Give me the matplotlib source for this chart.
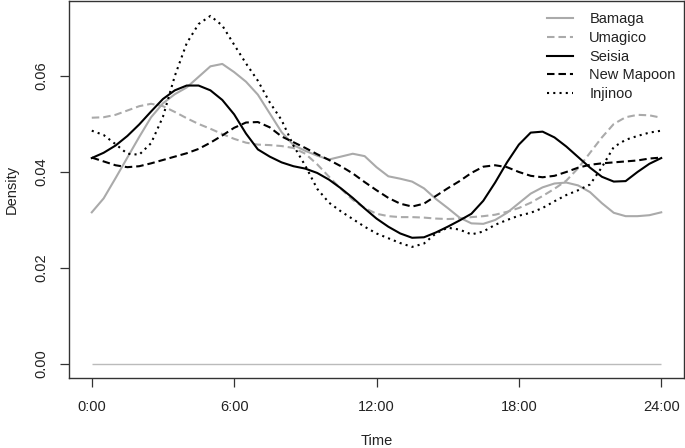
import numpy as np
import matplotlib
matplotlib.use("Agg")
import matplotlib.pyplot as plt

plt.rcParams['font.family'] = ['Liberation Sans', 'DejaVu Sans']

# Time grid (hours), half-hourly readings
hours = np.arange(0, 24.5, 0.5)

bamaga = [0.0316, 0.0345, 0.0387, 0.0430, 0.0473, 0.0514, 0.0543, 0.0562, 0.0576, 0.0598,
          0.0620, 0.0625, 0.0608, 0.0588, 0.0561, 0.0522, 0.0483, 0.0456, 0.0444, 0.0434,
          0.0426, 0.0432, 0.0438, 0.0433, 0.0410, 0.0391, 0.0386, 0.0380, 0.0366, 0.0344,
          0.0325, 0.0305, 0.0293, 0.0292, 0.0300, 0.0315, 0.0335, 0.0355, 0.0368, 0.0376,
          0.0378, 0.0372, 0.0358, 0.0335, 0.0315, 0.0308, 0.0308, 0.0310, 0.0316]

umagico = [0.0513, 0.0514, 0.0519, 0.0528, 0.0537, 0.0542, 0.0537, 0.0525, 0.0512, 0.0500,
           0.0490, 0.0479, 0.0469, 0.0461, 0.0457, 0.0456, 0.0454, 0.0450, 0.0438, 0.0416,
           0.0390, 0.0365, 0.0342, 0.0325, 0.0313, 0.0308, 0.0306, 0.0306, 0.0305, 0.0303,
           0.0302, 0.0303, 0.0306, 0.0308, 0.0311, 0.0317, 0.0325, 0.0336, 0.0350, 0.0365,
           0.0382, 0.0408, 0.0440, 0.0472, 0.0500, 0.0514, 0.0519, 0.0518, 0.0513]

seisia = [0.0429, 0.0440, 0.0455, 0.0475, 0.0499, 0.0526, 0.0552, 0.0570, 0.0580, 0.0580,
          0.0570, 0.0550, 0.0520, 0.0480, 0.0447, 0.0432, 0.0420, 0.0412, 0.0407, 0.0398,
          0.0384, 0.0366, 0.0346, 0.0324, 0.0303, 0.0286, 0.0272, 0.0263, 0.0264, 0.0274,
          0.0286, 0.0299, 0.0313, 0.0340, 0.0378, 0.0420, 0.0457, 0.0482, 0.0484, 0.0472,
          0.0453, 0.0431, 0.0409, 0.0390, 0.0380, 0.0381, 0.0400, 0.0417, 0.0429]

new_mapoon = [0.0430, 0.0422, 0.0414, 0.0410, 0.0412, 0.0418, 0.0425, 0.0432, 0.0439, 0.0448,
              0.0461, 0.0476, 0.0492, 0.0503, 0.0504, 0.0493, 0.0474, 0.0462, 0.0450, 0.0437,
              0.0425, 0.0412, 0.0397, 0.0379, 0.0362, 0.0346, 0.0334, 0.0328, 0.0334, 0.0350,
              0.0366, 0.0381, 0.0398, 0.0411, 0.0414, 0.0410, 0.0400, 0.0392, 0.0389, 0.0392,
              0.0400, 0.0409, 0.0415, 0.0418, 0.0420, 0.0422, 0.0424, 0.0428, 0.0430]

injinoo = [0.0486, 0.0477, 0.0458, 0.0438, 0.0436, 0.0460, 0.0515, 0.0600, 0.0668, 0.0708,
           0.0725, 0.0705, 0.0665, 0.0626, 0.0590, 0.0545, 0.0508, 0.0455, 0.0413, 0.0365,
           0.0336, 0.0318, 0.0302, 0.0286, 0.0272, 0.0262, 0.0252, 0.0244, 0.0251, 0.0272,
           0.0284, 0.0280, 0.0270, 0.0276, 0.0290, 0.0300, 0.0309, 0.0315, 0.0325, 0.0339,
           0.0352, 0.0362, 0.0374, 0.0410, 0.0452, 0.0467, 0.0475, 0.0482, 0.0486]

series_names = ["Bamaga", "Umagico", "Seisia", "New Mapoon", "Injinoo"]
xtick_vals = [0, 6, 12, 18, 24]
xtick_labels = ["0:00", "6:00", "12:00", "18:00", "24:00"]
ytick_vals = [0.00, 0.02, 0.04, 0.06]
ytick_labels = ["0.00", "0.02", "0.04", "0.06"]

W, H = 685, 448
fig = plt.figure(figsize=(W / 100, H / 100), dpi=100)
ax = fig.add_axes([69 / W, (H - 378) / H, (684 - 69) / W, (378 - 1.5) / H])

grey = '#aaaaaa'
lw = 1.5
dash = (0, (3.6, 1.9))
dot = (0, (1.0, 2.0))

ax.hlines(0, 0, 24, color='#bbbbbb', lw=1.0)
ax.plot(hours, bamaga, color=grey, lw=lw, ls='-', label=series_names[0])
ax.plot(hours, umagico, color=grey, lw=lw, ls=dash, label=series_names[1])
ax.plot(hours, seisia, color='black', lw=lw, ls='-', label=series_names[2])
ax.plot(hours, new_mapoon, color='black', lw=lw, ls=dash, label=series_names[3])
ax.plot(hours, injinoo, color='black', lw=lw, ls=dot, label=series_names[4])

ax.set_xlim(-0.96, 24.96)
ax.set_ylim(-0.0029, 0.0755)

fs = 10.5
ax.set_xticks(xtick_vals)
ax.set_xticklabels(xtick_labels, fontsize=fs)
ax.set_yticks(ytick_vals)
ax.set_yticklabels(ytick_labels, fontsize=fs, rotation=90, va='center')
ax.tick_params(axis='both', direction='out', length=6.5, width=0.9, color='#333333', labelcolor='#222222')
ax.tick_params(axis='x', pad=9)
ax.tick_params(axis='y', pad=8)
for sp in ax.spines.values():
    sp.set_linewidth(1.0)
    sp.set_color('#333333')

ax.set_xlabel("Time", fontsize=fs, color='#222222')
ax.xaxis.label.set_va('center')
ax.xaxis.set_label_coords(0.5, -(441 - 378) / 376.5)
ax.set_ylabel("Density", fontsize=fs, color='#222222')
ax.yaxis.label.set_va('center')
ax.yaxis.set_label_coords(-(69 - 12) / 615, 0.5)

leg = ax.legend(loc='upper left', bbox_to_anchor=(547 / W, 1 - 12.5 / H), bbox_transform=fig.transFigure,
                frameon=False, fontsize=fs, handlelength=1.8, handletextpad=1.1,
                labelspacing=0.32, borderpad=0, borderaxespad=0)
for t in leg.get_texts():
    t.set_color('#222222')

fig.savefig("out.png", dpi=100)
